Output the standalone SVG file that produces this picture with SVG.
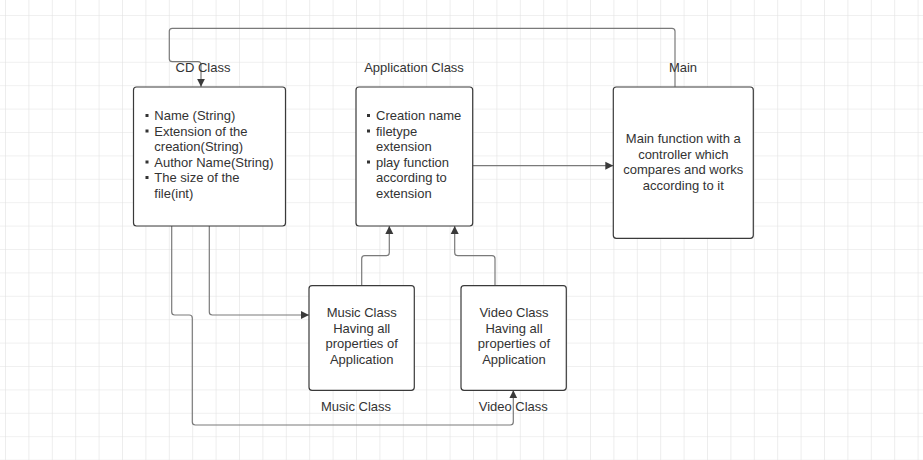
<svg xmlns="http://www.w3.org/2000/svg" width="923" height="460" viewBox="0 0 923 460">
<defs>
<pattern id="grid" x="5" y="15" width="23.4" height="23.4" patternUnits="userSpaceOnUse">
<path d="M0,0 H23.4 M0,0 V23.4" fill="none" stroke="#e2e2e2" stroke-width="1.2"/>
</pattern>
<marker id="arr" viewBox="0 0 10 10" refX="10" refY="5" markerWidth="8" markerHeight="9" markerUnits="userSpaceOnUse" orient="auto">
<path d="M0,0 L10,5 L0,10 z" fill="#3a3a3a"/>
</marker>
<style>
.box{fill:#ffffff;stroke:#3a3a3a;stroke-width:1.2}
.t{font-family:"Liberation Sans",Arial,sans-serif;font-size:13px;fill:#333333}
.c{text-anchor:middle}
.conn{fill:none;stroke:#7a7a7a;stroke-width:1.2}
.b{fill:#333333}
</style>
</defs>
<rect x="0" y="0" width="923" height="460" fill="#ffffff"/>
<rect x="0" y="0" width="923" height="460" fill="url(#grid)"/>

<g id="connectors">
<path class="conn" marker-end="url(#arr)" d="M675,86.7 V31.3 Q675,28.3 672,28.3 H172.3 Q169.3,28.3 169.3,31.3 V58.7 Q169.3,61.7 172.3,61.7 H198 Q201,61.7 201,64.7 V86.7"/>
<path class="conn" marker-end="url(#arr)" d="M472.7,165.7 H613.3"/>
<path class="conn" marker-end="url(#arr)" d="M209.3,226 V312 Q209.3,315 212.3,315 H309"/>
<path class="conn" marker-end="url(#arr)" d="M171.7,226 V312 Q171.7,315 174.7,315 H189.3 Q192.3,315 192.3,318 V422 Q192.3,425 195.3,425 H510.3 Q513.3,425 513.3,422 V390.3"/>
<path class="conn" marker-end="url(#arr)" d="M361.7,285.7 V258.7 Q361.7,255.7 364.7,255.7 H386.3 Q389.3,255.7 389.3,252.7 V226"/>
<path class="conn" marker-end="url(#arr)" d="M495,285.7 V258.7 Q495,255.7 492,255.7 H457.7 Q454.7,255.7 454.7,252.7 V226"/>
</g>

<g id="cd-class">
<rect class="box" x="133.5" y="87" width="152" height="139" rx="3"/>
<text class="t c" x="203" y="72">CD Class</text>
<rect class="b" x="145.5" y="114" width="3" height="3"/>
<text class="t" x="154.3" y="120">Name (String)</text>
<rect class="b" x="145.5" y="129.5" width="3" height="3"/>
<text class="t" x="154.3" y="135.5">Extension of the</text>
<text class="t" x="154.3" y="151">creation(String)</text>
<rect class="b" x="145.5" y="160.5" width="3" height="3"/>
<text class="t" x="154.3" y="166.5">Author Name(String)</text>
<rect class="b" x="145.5" y="176" width="3" height="3"/>
<text class="t" x="154.3" y="182">The size of the</text>
<text class="t" x="154.3" y="197.5">file(int)</text>
</g>

<g id="application-class">
<rect class="box" x="356" y="87" width="116.7" height="139" rx="3"/>
<text class="t c" x="414" y="72">Application Class</text>
<rect class="b" x="367" y="114" width="3" height="3"/>
<text class="t" x="376" y="120">Creation name</text>
<rect class="b" x="367" y="129.5" width="3" height="3"/>
<text class="t" x="376" y="135.5">filetype</text>
<text class="t" x="376" y="151">extension</text>
<rect class="b" x="367" y="160.5" width="3" height="3"/>
<text class="t" x="376" y="166.5">play function</text>
<text class="t" x="376" y="182">according to</text>
<text class="t" x="376" y="197.5">extension</text>
</g>

<g id="main">
<rect class="box" x="613.3" y="87" width="140" height="151.3" rx="3"/>
<text class="t c" x="683" y="72">Main</text>
<text class="t c" x="683.3" y="143">Main function with a</text>
<text class="t c" x="683.3" y="158.5">controller which</text>
<text class="t c" x="683.3" y="174">compares and works</text>
<text class="t c" x="683.3" y="189.5">according to it</text>
</g>

<g id="music-class">
<rect class="box" x="309" y="285.7" width="105.3" height="104.6" rx="3"/>
<text class="t c" x="361.7" y="317">Music Class</text>
<text class="t c" x="361.7" y="332.5">Having all</text>
<text class="t c" x="361.7" y="348">properties of</text>
<text class="t c" x="361.7" y="363.5">Application</text>
<text class="t c" x="356" y="411">Music Class</text>
</g>

<g id="video-class">
<rect class="box" x="461" y="285.7" width="105.3" height="104.6" rx="3"/>
<text class="t c" x="514" y="317">Video Class</text>
<text class="t c" x="514" y="332.5">Having all</text>
<text class="t c" x="514" y="348">properties of</text>
<text class="t c" x="514" y="363.5">Application</text>
<text class="t c" x="513.3" y="411">Video Class</text>
</g>
</svg>
